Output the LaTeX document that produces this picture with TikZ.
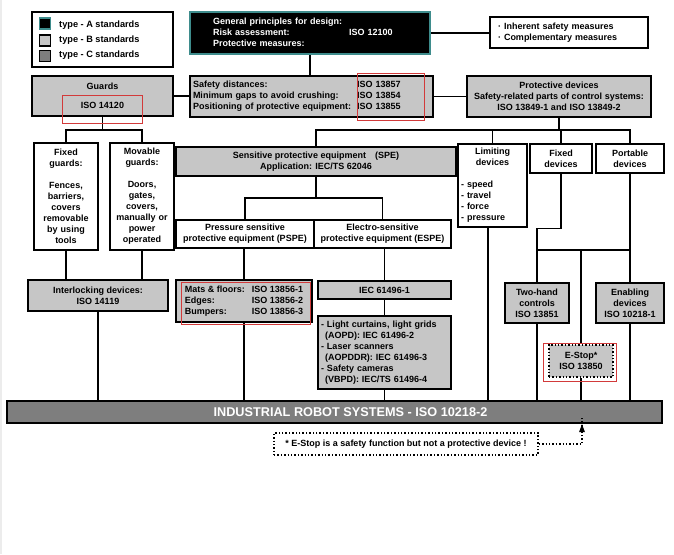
\documentclass[tikz,border=0pt]{standalone}
\usepackage{fontspec}
\setmainfont{Liberation Sans}
\usetikzlibrary{arrows.meta}

\definecolor{boxgray}{HTML}{C6C6C6}
\definecolor{bargray}{HTML}{7E7E7E}
\definecolor{rimteal}{HTML}{3E8C8C}
\definecolor{markred}{HTML}{D23A3A}

\tikzset{
    stdbox/.style={draw, line width=1.4pt, inner sep=2pt, align=center,
        font=\bfseries\fontsize{9}{11}\selectfont},
    bbox/.style={stdbox, fill=boxgray},
    wbox/.style={stdbox, fill=white},
    link/.style={line width=1.4pt},
    redframe/.style={draw=markred, line width=0.9pt},
}

\begin{document}
\begin{tikzpicture}[x=1pt,y=-1pt]
    \useasboundingbox (0,0) rectangle (674,554);
    \fill[gray!15] (0,0) rectangle (2,554);

    % legend
    \node[wbox, minimum width=141pt, minimum height=55pt] (legend) at (102.5,39.5) {};
    \node[draw=rimteal, fill=black, line width=1.4pt, minimum size=11pt, inner sep=0pt] (keyA) at (45,23.5) {};
    \node[draw, fill=boxgray, line width=1.4pt, minimum size=11pt, inner sep=0pt] (keyB) at (45,40.5) {};
    \node[draw, fill=bargray, line width=1.4pt, minimum size=11pt, inner sep=0pt] (keyC) at (45,56) {};
    \node[anchor=west, font=\bfseries\fontsize{9.2}{11}\selectfont, inner sep=2pt] (txtA) at (57,25) {type - A standards};
    \node[anchor=west, font=\bfseries\fontsize{9.2}{11}\selectfont, inner sep=2pt] (txtB) at (57,40) {type - B standards};
    \node[anchor=west, font=\bfseries\fontsize{9.2}{11}\selectfont, inner sep=2pt] (txtC) at (57,55) {type - C standards};

    % top row
    \node[stdbox, draw=rimteal, line width=2pt, fill=black, text=white, align=left,
        minimum width=240pt, minimum height=42pt, text width=194pt, inner xsep=23pt] (gen) at (310,33)
        {\begin{tabular}{@{}l@{\hspace{7pt}}l@{}}
            General principles for design: & \\
            Risk assessment: & ISO 12100\\
            Protective measures: &
        \end{tabular}};
    \node[wbox, align=left, minimum width=158pt, minimum height=31pt, text width=142pt, inner xsep=8pt] (inh) at (569,32.5)
        {\textperiodcentered\ Inherent safety measures\\ \textperiodcentered\ Complementary measures};

    \node[bbox, minimum width=141pt, minimum height=40pt] (guards) at (102.5,96) {Guards\\[8pt]ISO 14120};
    \node[bbox, align=left, minimum width=243pt, minimum height=41pt, text width=237pt, inner xsep=3pt] (sd) at (311.5,96.5)
        {\begin{tabular}{@{}l@{\hspace{6pt}}l@{}}
            Safety distances: & ISO 13857\\
            Minimum gaps to avoid crushing: & ISO 13854\\
            Positioning of protective equipment: & ISO 13855
        \end{tabular}};
    \node[bbox, minimum width=184pt, minimum height=41pt] (pd) at (559,96.5)
        {Protective devices\\Safety-related parts of control systems:\\ISO 13849-1 and ISO 13849-2};

    % second row
    \node[wbox, minimum width=64pt, minimum height=107pt, text width=60pt] (fg) at (66,196.5)
        {Fixed\\guards:\\[11pt]Fences,\\barriers,\\covers\\removable\\by using\\tools};
    \node[wbox, minimum width=64pt, minimum height=107pt, text width=60pt] (mg) at (142,196.5)
        {Movable\\guards:\\[11pt]Doors,\\gates,\\covers,\\manually or\\power\\operated};
    \node[bbox, minimum width=280pt, minimum height=29pt] (spe) at (316,161.5)
        {Sensitive protective equipment\quad(SPE)\\Application: IEC/TS 62046};
    \node[wbox, align=left, minimum width=69pt, minimum height=83pt, text width=63pt, inner xsep=3pt] (lim) at (492.5,185.5)
        {\makebox[63pt]{Limiting}\\\makebox[63pt]{devices}\\[11pt]- speed\\- travel\\- force\\- pressure};
    \node[wbox, minimum width=62pt, minimum height=29pt] (fd) at (561,158.5) {Fixed\\devices};
    \node[wbox, minimum width=68pt, minimum height=29pt] (pt) at (630,158.5) {Portable\\devices};

    \node[wbox, minimum width=138pt, minimum height=28pt] (pspe) at (245,234)
        {Pressure sensitive\\protective equipment (PSPE)};
    \node[wbox, minimum width=137pt, minimum height=28pt] (espe) at (382.5,234)
        {Electro-sensitive\\protective equipment (ESPE)};

    % third row
    \node[bbox, minimum width=140pt, minimum height=31pt] (il) at (98,295.5) {Interlocking devices:\\ISO 14119};
    \node[bbox, minimum width=136pt, minimum height=42pt] (mats) at (244,301)
        {\begin{tabular}{@{}l@{\hspace{7pt}}l@{}}
            Mats \& floors: & ISO 13856-1\\
            Edges: & ISO 13856-2\\
            Bumpers: & ISO 13856-3
        \end{tabular}};
    \node[bbox, minimum width=133pt, minimum height=18pt] (iec) at (384.5,290) {IEC 61496-1};
    \node[bbox, align=left, minimum width=133pt, minimum height=73pt, text width=127pt, inner xsep=3pt] (lc) at (384.5,352.5)
        {- Light curtains, light grids\\\hspace*{4pt}(AOPD): IEC 61496-2\\- Laser scanners\\\hspace*{4pt}(AOPDDR): IEC 61496-3\\- Safety cameras\\\hspace*{4pt}(VBPD): IEC/TS 61496-4};
    \node[bbox, minimum width=64pt, minimum height=40pt] (th) at (537,303) {Two-hand\\controls\\ISO 13851};
    \node[bbox, minimum width=68pt, minimum height=40pt] (en) at (630,303) {Enabling\\devices\\ISO 10218-1};
    \node[bbox, dotted, line width=1.7pt, minimum width=64pt, minimum height=32pt] (es) at (581,361) {E-Stop*\\ISO 13850};

    % robot systems bar and note
    \node[stdbox, fill=bargray, text=white, minimum width=655pt, minimum height=22pt,
        font=\bfseries\fontsize{12.7}{14}\selectfont] (bar) at (334.5,412) {\hspace*{32pt}INDUSTRIAL ROBOT SYSTEMS - ISO 10218-2};
    \node[wbox, dotted, minimum width=264pt, minimum height=22pt,
        font=\bfseries\fontsize{9}{11}\selectfont] (foot) at (406,444) {* E-Stop is a safety function but not a protective device !};

    % connectors
    \draw[link] (gen.east) -- (inh.west |- gen.east);
    \draw[link] (gen.south) -- (gen.south |- sd.north);
    \draw[link] (guards.east) -- (sd.west |- guards.east);
    \draw[link] (sd.east) -- (pd.west |- sd.east);

    \coordinate (gj) at (102.5,130);
    \draw[link] (guards.south) -- (gj);
    \draw[link] (fg.north) |- (gj) -| (mg.north);

    \coordinate (pj) at (559,130);
    \draw[link] (pd.south) -- (pj);
    \draw[link] (spe.north) |- (pj) -| (pt.north);
    \draw[link] (lim.north) -- (lim.north |- pj);
    \draw[link] (fd.north) -- (fd.north |- pj);

    \coordinate (sj) at (316,198);
    \draw[link] (spe.south) -- (sj);
    \draw[link] (pspe.north) |- (sj) -| (espe.north);

    \draw[link] (fg.south) -- (fg.south |- il.north);
    \draw[link] (mg.south) -- (mg.south |- il.north);
    \draw[link] (il.south) -- (il.south |- bar.north);
    \draw[link] (mats.north) -- (mats.north |- pspe.south);
    \draw[link] (mats.south) -- (mats.south |- bar.north);
    \draw[link] (iec.north) -- (iec.north |- espe.south);
    \draw[link] (iec.south) -- (lc.north);
    \draw[link] (lc.south) -- (lc.south |- bar.north);
    \draw[link] ([xshift=-4.5pt]lim.south) -- ([xshift=-4.5pt]lim.south |- bar.north);

    \coordinate (dj) at (581,250);
    \draw[link] (fd.south) -- ++(0,55) -| (th.north);
    \draw[link] (th.north |- dj) -- (pt.south |- dj);
    \draw[link] (pt.south) -- (en.north);
    \draw[link] (dj) -- (es.north);
    \draw[link] (th.south) -- (th.south |- bar.north);
    \draw[link] (en.south) -- (en.south |- bar.north);
    \draw[link] (es.south) -- (es.south |- bar.north);

    % dotted note arrow
    \coordinate (tip) at ([xshift=1pt]es.south |- bar.south);
    \draw[link, dotted] (foot.east) -| ([yshift=6pt]tip);
    \fill (tip) ++(0,0.5) -- ++(-3,8) -- ++(6,0) -- cycle;

    % red highlight frames
    \draw[redframe] (62,95) rectangle (142,123);
    \draw[redframe] (357,73) rectangle (424,120);
    \draw[redframe] (181,282) rectangle (310,324);
    \draw[redframe] (543,343) rectangle (616,381);
\end{tikzpicture}
\end{document}
